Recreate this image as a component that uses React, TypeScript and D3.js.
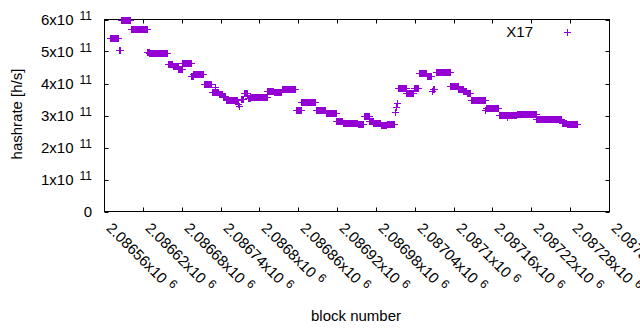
import React from 'react';
import * as d3 from 'd3';

// runs of blocks that share one hashrate value (first block, last block, H/s)
const blockStart = [
  2086569, 2086583, 2086587, 2086601, 2086627, 2086630, 2086659, 2086666, 2086675, 2086681,
  2086695, 2086698, 2086714, 2086727, 2086731, 2086732, 2086737, 2086744, 2086748, 2086767,
  2086768, 2086771, 2086776, 2086782, 2086786, 2086812, 2086822, 2086835, 2086856, 2086865,
  2086887, 2086903, 2086919, 2086929, 2086952, 2086962, 2086970, 2086976, 2086981, 2086988,
  2086997, 2087010, 2087011, 2087012, 2087014, 2087027, 2087039, 2087046, 2087059, 2087066,
  2087068, 2087073, 2087095, 2087107, 2087115, 2087120, 2087127, 2087149, 2087150, 2087170,
  2087183, 2087184, 2087198, 2087228, 2087267, 2087275,
];
const blockEnd = [
  2086581, 2086584, 2086600, 2086626, 2086629, 2086658, 2086665, 2086674, 2086680, 2086694,
  2086697, 2086713, 2086726, 2086730, 2086731, 2086736, 2086743, 2086747, 2086765, 2086767,
  2086768, 2086775, 2086781, 2086785, 2086811, 2086821, 2086834, 2086855, 2086864, 2086886,
  2086902, 2086918, 2086928, 2086951, 2086960, 2086969, 2086975, 2086980, 2086987, 2086996,
  2087008, 2087010, 2087011, 2087012, 2087026, 2087038, 2087045, 2087058, 2087065, 2087067,
  2087070, 2087094, 2087106, 2087114, 2087119, 2087126, 2087148, 2087149, 2087169, 2087182,
  2087183, 2087197, 2087227, 2087266, 2087274, 2087291,
];
const hashrate = [
  5.42e11, 5.03e11, 5.97e11, 5.68e11, 4.97e11, 4.94e11, 4.58e11, 4.52e11, 4.45e11, 4.61e11,
  4.22e11, 4.27e11, 3.98e11, 3.73e11, 3.86e11, 3.73e11, 3.66e11, 3.58e11, 3.47e11, 3.33e11,
  3.27e11, 3.50e11, 3.68e11, 3.52e11, 3.55e11, 3.76e11, 3.73e11, 3.80e11, 3.16e11, 3.40e11,
  3.16e11, 3.07e11, 2.82e11, 2.74e11, 2.71e11, 2.96e11, 2.81e11, 2.76e11, 2.74e11, 2.69e11,
  2.72e11, 3.10e11, 3.26e11, 3.36e11, 3.83e11, 3.68e11, 3.83e11, 4.30e11, 4.23e11, 3.76e11,
  3.80e11, 4.35e11, 3.92e11, 3.80e11, 3.76e11, 3.68e11, 3.47e11, 3.17e11, 3.21e11, 3.00e11,
  2.95e11, 3.00e11, 3.03e11, 2.87e11, 2.76e11, 2.71e11,
];

const xTicks = [
  2086560, 2086620, 2086680, 2086740, 2086800, 2086860, 2086920,
  2086980, 2087040, 2087100, 2087160, 2087220, 2087280, 2087340,
];
const yTicks = [0, 1e11, 2e11, 3e11, 4e11, 5e11, 6e11];
const seriesName = 'X17';

const W = 640, H = 330;
const left = 104.5, right = 609.5, top = 19.5, bottom = 211.5;
const color = '#9400d3';
const font = '"Liberation Sans", Arial, sans-serif';
const fs = 15;
const tick = 4;
const arm = 3.5;

function plus(x: number, y: number) {
  return `M${x - arm},${y}H${x + arm}M${x},${y - arm}V${y + arm}`;
}

export default function App() {
  const x = d3.scaleLinear().domain([xTicks[0], xTicks[xTicks.length - 1]]).range([left, right]);
  const y = d3.scaleLinear().domain([0, 6e11]).range([bottom, top]);

  const points: { b: number; v: number }[] = [];
  blockStart.forEach((s, i) => {
    for (let b = s; b <= blockEnd[i]; b++) points.push({ b, v: hashrate[i] });
  });
  const d = points.map(p => plus(x(p.b), y(p.v))).join('');

  const xFmt = (v: number) => String(+(v / 1e6).toFixed(5));

  return (
    <svg width={W} height={H} style={{ position: 'absolute', left: 0, top: 0, background: '#fff' }}
      fontFamily={font} fontSize={fs}>
      <rect width={W} height={H} fill="#fff" />

      {/* y ticks both sides */}
      {yTicks.map(t => (
        <g key={'y' + t}>
          <line x1={left} x2={left + tick} y1={Math.round(y(t)) + 0.5} y2={Math.round(y(t)) + 0.5} stroke="#000" />
          <line x1={right} x2={right - tick} y1={Math.round(y(t)) + 0.5} y2={Math.round(y(t)) + 0.5} stroke="#000" />
          {t === 0 ? (
            <text x={92} y={y(t) + 5} textAnchor="end" fill="#000">0</text>
          ) : (
            <text x={92} y={y(t) + 5} textAnchor="end" fill="#000">
              {`${t / 1e11}x10`}
              <tspan dx={6} dy={-5} fontSize={12}>11</tspan>
            </text>
          )}
        </g>
      ))}

      {/* x ticks both sides */}
      {xTicks.map(t => {
        const tx = Math.round(x(t) - 0.5) + 0.5;
        return (
          <g key={'x' + t}>
            <line x1={tx} x2={tx} y1={bottom} y2={bottom - tick} stroke="#000" />
            <line x1={tx} x2={tx} y1={top} y2={top + tick} stroke="#000" />
            <text x={tx + 1} y={229} transform={`rotate(45 ${tx + 1} 229)`} fill="#000">
              {`${xFmt(t)}x10`}
              <tspan dx={5} dy={-5} fontSize={12}>6</tspan>
            </text>
          </g>
        );
      })}

      <rect x={left} y={top} width={right - left} height={bottom - top} fill="none" stroke="#000" />

      <path d={d} stroke={color} strokeWidth={1} fill="none" shapeRendering="crispEdges" />

      {/* key */}
      <text x={533} y={37} textAnchor="end" fill="#000">{seriesName}</text>
      <path d={plus(567.5, 32.5)} stroke={color} fill="none" shapeRendering="crispEdges" />

      <text transform={`translate(22,114) rotate(-90)`} textAnchor="middle" fill="#000">hashrate [h/s]</text>
      <text x={356} y={321} textAnchor="middle" fill="#000">block number</text>
    </svg>
  );
}
